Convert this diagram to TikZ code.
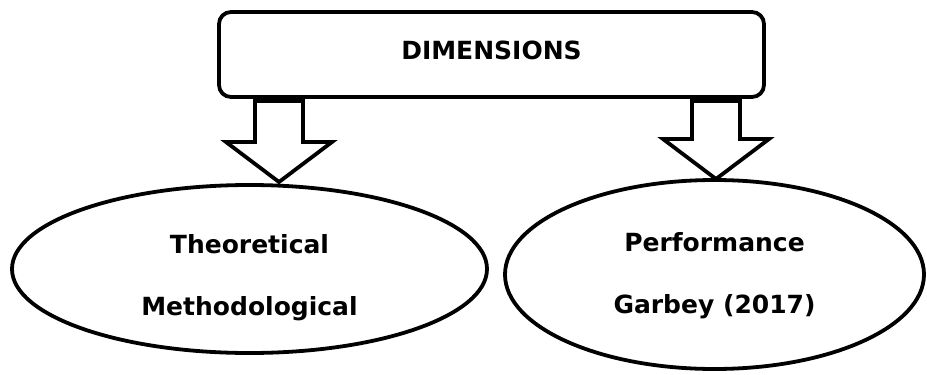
\documentclass[tikz,border=0pt]{standalone}
\usepackage{fontspec}
\setmainfont{DejaVu Sans}
\usepackage{tikz}
\usetikzlibrary{shapes.geometric,calc}

\tikzset{
  dimbox/.style={draw, line width=3.8pt, rounded corners=12pt, minimum width=545pt, minimum height=85pt, inner sep=0pt, font=\fontsize{25}{30}\selectfont\bfseries, text height=18pt, text depth=9pt},
  oval/.style={draw, ellipse, line width=3.8pt, inner sep=0pt, align=center, text depth=0pt, font=\fontsize{25}{62}\selectfont\bfseries},
  hollow/.style={draw, line width=3.8pt, fill=white}
}
\newcommand{\blockarrow}[2]{%
  \draw[hollow] ($(#1)+(-24,2)$) -- ($(#2)+(-24,-40)$) -- ($(#2)+(-53,-40)$) -- (#2)
    -- ($(#2)+(53,-40)$) -- ($(#2)+(24,-40)$) -- ($(#1)+(24,2)$) -- cycle;}

\begin{document}
\begin{tikzpicture}[x=1pt, y=-1pt]
  \useasboundingbox (0,0) rectangle (927,375);
  \node[dimbox] (dim) at (491.5,54.5) {DIMENSIONS};
  \node[oval, minimum width=475pt, minimum height=168pt, text height=92pt] (theo) at (249.5,269) {Theoretical\\Methodological};
  \node[oval, minimum width=419pt, minimum height=189pt, text height=77pt] (perf) at (714.5,274.5) {Performance\\Garbey (2017)};
  \coordinate (tipL) at (279,182);
  \coordinate (tipR) at (716,179);
  \blockarrow{dim.south -| tipL}{tipL}
  \blockarrow{dim.south -| tipR}{tipR}
\end{tikzpicture}
\end{document}
